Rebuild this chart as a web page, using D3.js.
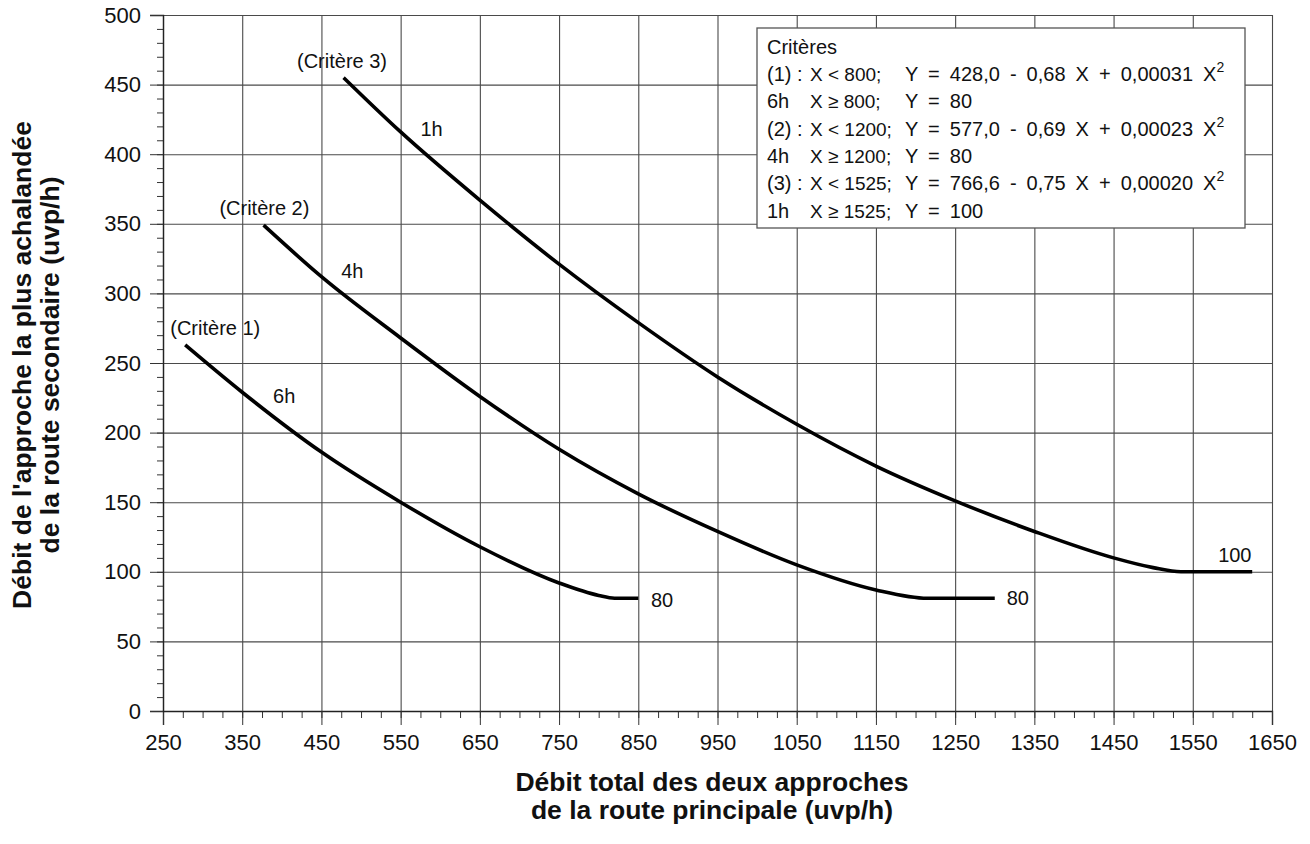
<!DOCTYPE html>
<html>
<head>
<meta charset="utf-8">
<script src="https://cdnjs.cloudflare.com/ajax/libs/d3/7.8.5/d3.min.js"></script>
<style>
  body { margin: 0; background: #fff; }
  svg { font-family: "Liberation Sans", Arial, sans-serif; }
  .grid line { stroke: #4a4a4a; stroke-width: 1.1; }
  .grid path { display: none; }
  .tick text { fill: #111; }
</style>
</head>
<body>
<div id="chart"></div>
<script>
// values
var xTicks = [250, 350, 450, 550, 650, 750, 850, 950, 1050, 1150, 1250, 1350, 1450, 1550, 1650];
var yTicks = [0, 50, 100, 150, 200, 250, 300, 350, 400, 450, 500];

// Critere 1 (6h)
var c1X = [278, 350, 450, 550, 650, 750, 800, 820, 850];
var c1Y = [263, 229, 186, 150, 118, 92, 83, 81, 81];
// Critere 2 (4h)
var c2X = [377, 450, 550, 650, 750, 850, 950, 1050, 1150, 1215, 1300];
var c2Y = [349, 312, 268, 226, 188, 156, 129, 105, 87, 81, 81];
// Critere 3 (1h)
var c3X = [478, 550, 650, 750, 850, 950, 1050, 1150, 1250, 1350, 1450, 1500, 1535, 1625];
var c3Y = [455, 416, 367, 321, 279, 240, 206, 176, 151, 129, 110, 103, 100, 100];

// labels next to the curves
var noteText = ["(Critère 1)", "6h", "(Critère 2)", "4h", "(Critère 3)", "1h", "80", "80", "100"];
var noteX = [316, 389, 378, 475, 476, 575, 866, 1315, 1582];
var noteY = [270, 221, 356, 311, 462, 413, 75, 76, 107];
var noteAnchor = ["middle", "start", "middle", "start", "middle", "start", "start", "start", "start"];

// legend box rows
var legendCrit = ["(1) :", "6h", "(2) :", "4h", "(3) :", "1h"];
var legendCond = ["X < 800;", "X ≥ 800;", "X < 1200;", "X ≥ 1200;", "X < 1525;", "X ≥ 1525;"];
var legendEq = ["Y = 428,0 - 0,68 X + 0,00031 X", "Y = 80", "Y = 577,0 - 0,69 X + 0,00023 X", "Y = 80", "Y = 766,6 - 0,75 X + 0,00020 X", "Y = 100"];
var legendSup = ["2", "", "2", "", "2", ""];

var svgWidth = 1310;
var svgHeight = 844;
var margin = { top: 15, right: 38, bottom: 133, left: 163 };
var width = svgWidth - margin.left - margin.right;
var height = svgHeight - margin.top - margin.bottom;

var svg = d3.select("#chart")
    .append("svg")
    .attr("width", svgWidth)
    .attr("height", svgHeight);

var chart = svg.append("g")
    .attr("transform", `translate(${margin.left}, ${margin.top})`);

var x = d3.scaleLinear().domain([250, 1650]).range([0, width]);
var y = d3.scaleLinear().domain([0, 500]).range([height, 0]);

// grid lines
chart.append("g")
    .attr("class", "grid")
    .attr("transform", `translate(0, ${height})`)
    .call(d3.axisBottom(x).tickValues(xTicks).tickSize(-height).tickFormat(""));
chart.append("g")
    .attr("class", "grid")
    .call(d3.axisLeft(y).tickValues(yTicks).tickSize(-width).tickFormat(""));

// minor ticks
chart.append("g")
    .attr("transform", `translate(0, ${height})`)
    .call(d3.axisBottom(x).tickValues(d3.range(250, 1651, 25)).tickSize(7).tickFormat(""))
    .call(g => g.select(".domain").remove())
    .selectAll("line").attr("stroke", "#333");
chart.append("g")
    .call(d3.axisLeft(y).tickValues(d3.range(0, 501, 10)).tickSize(6).tickFormat(""))
    .call(g => g.select(".domain").remove())
    .selectAll("line").attr("stroke", "#333");

// main axes with labels
var xAxis = chart.append("g")
    .attr("transform", `translate(0, ${height})`)
    .call(d3.axisBottom(x).tickValues(xTicks).tickSizeOuter(0).tickSize(14).tickPadding(9).tickFormat(d3.format("d")));
xAxis.selectAll("text").style("font-size", "22px");
xAxis.select(".domain").attr("stroke", "#222").attr("stroke-width", 1.4);
xAxis.selectAll("line").attr("stroke", "#333");

var yAxis = chart.append("g")
    .call(d3.axisLeft(y).tickValues(yTicks).tickSizeOuter(0).tickSize(13).tickPadding(9).tickFormat(d3.format("d")));
yAxis.selectAll("text").style("font-size", "22px");
yAxis.select(".domain").attr("stroke", "#222").attr("stroke-width", 1.4);
yAxis.selectAll("line").attr("stroke", "#333");

// the three curves
var line = d3.line()
    .x(d => x(d[0]))
    .y(d => y(d[1]))
    .curve(d3.curveMonotoneX);

[[c1X, c1Y], [c2X, c2Y], [c3X, c3Y]].forEach(function(c) {
    var pts = c[0].map((v, i) => [v, c[1][i]]);
    chart.append("path")
        .datum(pts)
        .attr("d", line)
        .attr("fill", "none")
        .attr("stroke", "#000")
        .attr("stroke-width", 3.6);
});

// curve notes
chart.selectAll(".note")
    .data(noteText)
    .enter()
    .append("text")
    .attr("class", "note")
    .attr("x", (d, i) => x(noteX[i]))
    .attr("y", (d, i) => y(noteY[i]))
    .attr("text-anchor", (d, i) => noteAnchor[i])
    .style("font-size", "20px")
    .attr("fill", "#111")
    .text(d => d);

// legend box (pixel positions)
var lg = svg.append("g");
lg.append("rect")
    .attr("x", 757).attr("y", 28)
    .attr("width", 488).attr("height", 200)
    .attr("fill", "#fff")
    .attr("stroke", "#555")
    .attr("stroke-width", 1.3);
lg.append("text")
    .attr("x", 767).attr("y", 54)
    .style("font-size", "20px")
    .attr("fill", "#111")
    .text("Critères");
legendCrit.forEach(function(t, i) {
    var by = 81 + i * 27.3;
    lg.append("text").attr("x", 767).attr("y", by).style("font-size", "20px").attr("fill", "#111").text(t);
    lg.append("text").attr("x", 810).attr("y", by).style("font-size", "19px").attr("fill", "#111").text(legendCond[i]);
    var eq = lg.append("text").attr("x", 905).attr("y", by)
        .style("font-size", "20px").style("word-spacing", "4.5px").attr("fill", "#111");
    eq.append("tspan").text(legendEq[i]);
    if (legendSup[i]) {
        eq.append("tspan").attr("dy", -9).style("font-size", "14px").text(legendSup[i]);
    }
});

// axis titles
var yTitle = svg.append("text")
    .attr("transform", "translate(31, 365) rotate(-90)")
    .attr("text-anchor", "middle")
    .style("font-size", "26.5px")
    .style("font-weight", "bold")
    .attr("fill", "#111");
yTitle.append("tspan").attr("x", 0).attr("dy", 0).text("Débit de l'approche la plus achalandée");
yTitle.append("tspan").attr("x", 0).attr("dy", 28).text("de la route secondaire (uvp/h)");

var xTitle = svg.append("text")
    .attr("transform", "translate(712, 791)")
    .attr("text-anchor", "middle")
    .style("font-size", "26.5px")
    .style("font-weight", "bold")
    .attr("fill", "#111");
xTitle.append("tspan").attr("x", 0).attr("dy", 0).text("Débit total des deux approches");
xTitle.append("tspan").attr("x", 0).attr("dy", 28).text("de la route principale (uvp/h)");
</script>
</body>
</html>
